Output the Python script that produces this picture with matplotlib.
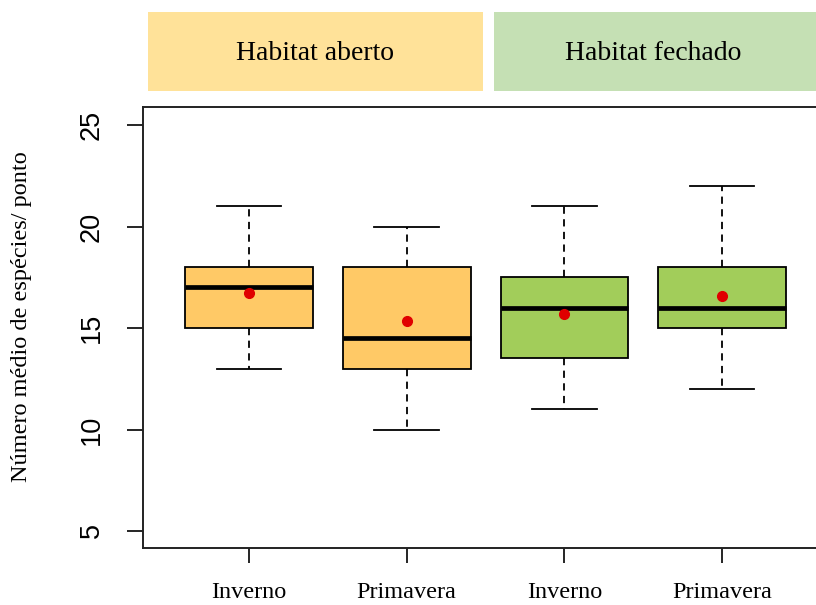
import matplotlib
matplotlib.use("Agg")
import matplotlib.pyplot as plt
from matplotlib.patches import Rectangle

# data
categories = ["Inverno", "Primavera", "Inverno", "Primavera"]
groups = ["Habitat aberto", "Habitat fechado"]
whislo = [13, 10, 11, 12]
q1 = [15, 13, 13.5, 15]
med = [17, 14.5, 16, 16]
q3 = [18, 18, 17.5, 18]
whishi = [21, 20, 21, 22]
means = [16.7, 15.35, 15.7, 16.6]
yticks = [5, 10, 15, 20, 25]

box_colors = ["#FFC966", "#FFC966", "#A2CD5A", "#A2CD5A"]
header_colors = ["#FFE299", "#C5E0B4"]

W, H = 816, 605
fig = plt.figure(figsize=(W / 100, H / 100), dpi=100)
ax_l, ax_r, ax_b, ax_t = 143, 845, 548, 107
ax = fig.add_axes([ax_l / W, (H - ax_b) / H, (ax_r - ax_l) / W, (ax_b - ax_t) / H])

positions = [1, 2, 3, 4]
stats = []
for i in range(4):
    stats.append(dict(whislo=whislo[i], q1=q1[i], med=med[i], q3=q3[i],
                      whishi=whishi[i], fliers=[], label=categories[i]))

bp = ax.bxp(stats, positions=positions, widths=0.81, patch_artist=True,
            showfliers=False,
            boxprops=dict(edgecolor="black", linewidth=1.3),
            medianprops=dict(color="black", linewidth=3.4, solid_capstyle="butt"),
            whiskerprops=dict(color="black", linewidth=1.3, linestyle=(0, (4, 3))),
            capprops=dict(color="black", linewidth=1.3),
            capwidths=0.41)
for patch, c in zip(bp["boxes"], box_colors):
    patch.set_facecolor(c)

ax.plot(positions, means, "o", color="#E00000", markersize=7, zorder=5)

px_per_unit = 157.7
ax.set_xlim(1 - (249 - ax_l) / px_per_unit, 1 + (ax_r - 249) / px_per_unit)
ypx = (531 - 125) / 20.0
ax.set_ylim(5 - (ax_b - 531) / ypx, 25 + (125 - ax_t) / ypx)

ax.set_yticks(yticks)
ax.set_yticklabels([str(v) for v in yticks], rotation=90, va="center",
                   fontfamily="Liberation Sans", fontsize=19.5)
ax.set_xticks(positions)
ax.set_xticklabels(categories, fontfamily="Liberation Serif", fontsize=17.5)
ax.tick_params(axis="y", length=11.5, width=1.2, pad=16)
ax.tick_params(axis="x", length=10.8, width=1.2, pad=14)

for s in ax.spines.values():
    s.set_linewidth(1.4)
    s.set_color("#222222")

fig.text(22 / W, 1 - 317 / H, "Número médio de espécies/ ponto", rotation=90,
         va="center", ha="center", fontfamily="Liberation Serif", fontsize=17.5)

# headers
rects = [(148, 483), (494, 830)]
for (x0, x1), c, g in zip(rects, header_colors, groups):
    fig.add_artist(Rectangle((x0 / W, 1 - 91 / H), (x1 - x0) / W, (91 - 12) / H,
                             transform=fig.transFigure, facecolor=c, edgecolor="none"))
    fig.text(((x0 + min(x1, 816)) / 2 + (0 if x1 < 816 else -2)) / W, 1 - 54 / H, g,
             ha="center", va="center", fontfamily="Liberation Serif", fontsize=20)

fig.savefig("out.png", dpi=100)
